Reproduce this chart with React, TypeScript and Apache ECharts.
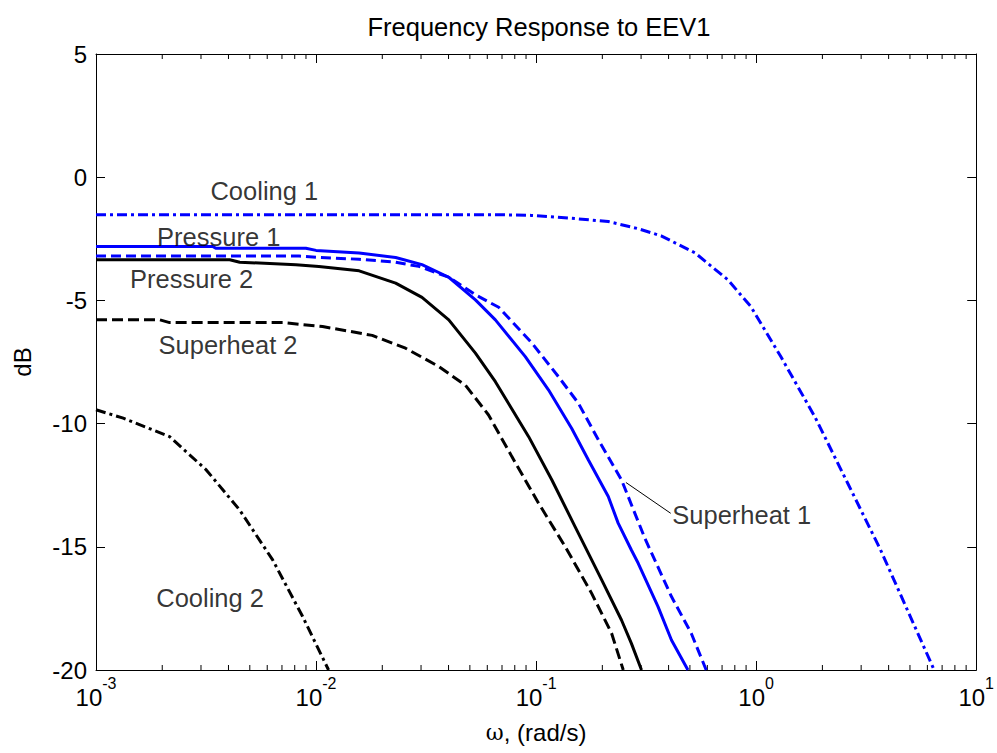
import React, { useEffect, useRef } from "react";
import * as echarts from "echarts";

// ---- Data (omega in rad/s, magnitude in dB) ----
const pressure1: [number, number][] = [
  [0.001, -2.81], [0.00339, -2.81], [0.0035, -2.88], [0.00899, -2.88], [0.01, -2.97],
  [0.0157, -3.08], [0.023, -3.26], [0.0303, -3.55], [0.0401, -4.06], [0.053, -4.98],
  [0.0653, -5.79], [0.0893, -7.28], [0.1138, -8.63], [0.1452, -10.2], [0.1726, -11.47],
  [0.2128, -12.96], [0.236, -14.04], [0.271, -15.13], [0.2911, -15.67], [0.3581, -17.43],
  [0.4121, -18.78], [0.4898, -20],
];
const superheat1: [number, number][] = [
  [0.001, -3.2], [0.00839, -3.2], [0.01, -3.25], [0.0157, -3.33], [0.023, -3.45],
  [0.0293, -3.62], [0.0401, -4.06], [0.053, -4.77], [0.0676, -5.28], [0.0957, -6.73],
  [0.1262, -8.09], [0.1556, -9.17], [0.1919, -10.66], [0.2443, -12.28], [0.3119, -14.65],
  [0.4121, -17.02], [0.507, -18.51], [0.5929, -20],
];
const pressure2: [number, number][] = [
  [0.001, -3.35], [0.00405, -3.35], [0.0045, -3.45], [0.0081, -3.55], [0.0103, -3.62],
  [0.0157, -3.8], [0.023, -4.3], [0.0303, -4.88], [0.0401, -5.79], [0.053, -7.14],
  [0.0653, -8.3], [0.0925, -10.53], [0.1178, -12.28], [0.1503, -14.18], [0.1986, -16.34],
  [0.2443, -17.97], [0.271, -18.92], [0.3013, -20],
];
const superheat2: [number, number][] = [
  [0.001, -5.79], [0.00195, -5.79], [0.00216, -5.9], [0.00705, -5.9], [0.0107, -6.06],
  [0.018, -6.42], [0.0255, -6.94], [0.0361, -7.68], [0.0478, -8.45], [0.0608, -9.65],
  [0.0776, -11.34], [0.1026, -13.23], [0.1355, -14.99], [0.1786, -16.88], [0.2203, -18.51],
  [0.2489, -20],
];
const cooling1: [number, number][] = [
  [0.001, -1.52], [0.0676, -1.52], [0.0953, -1.55], [0.1556, -1.69], [0.2128, -1.8],
  [0.2911, -2.09], [0.37, -2.38], [0.527, -3.07], [0.743, -4.16], [0.946, -5.25],
  [1.294, -7.28], [1.845, -9.71], [2.6, -12.4], [3.673, -15.12], [6.442, -20],
];
const cooling2: [number, number][] = [
  [0.001, -9.44], [0.00133, -9.78], [0.00216, -10.53], [0.00317, -11.88], [0.00449, -13.5],
  [0.00635, -15.53], [0.00869, -17.83], [0.0114, -20],
];

// annotation labels [omega, dB, text]
const annotations: [number, number, string][] = [
  [0.00582, -0.54, "Cooling 1"],
  [0.00361, -2.42, "Pressure 1"],
  [0.00272, -4.12, "Pressure 2"],
  [0.00398, -6.8, "Superheat 2"],
  [0.0033, -17.08, "Cooling 2"],
  [0.86, -13.71, "Superheat 1"],
];
const leader: [number, number][] = [[0.256, -12.39], [0.409, -13.64]];

const decades = [0.001, 0.01, 0.1, 1];
const minorMultipliers = [2, 3, 4, 5, 6, 7, 8, 9];

const xMin = 0.001;
const xMax = 10;
const yMin = -20;
const yMax = 5;
const yInterval = 5;

const FONT = "Liberation Sans, Arial, sans-serif";

export default function App() {
  const ref = useRef<HTMLDivElement>(null);
  useEffect(() => {
    document.body.style.margin = "0";
    if (!ref.current) return;
    const chart = echarts.init(ref.current, undefined, { renderer: "svg" });

    const minorTicks: number[][] = [];
    decades.forEach((d) => minorMultipliers.forEach((m) => minorTicks.push([d * m, yMin])));

    const lineSeries = (name: string, data: [number, number][], color: string, type: any) => ({
      name,
      type: "line",
      data,
      showSymbol: false,
      symbol: "none",
      smooth: false,
      lineStyle: { color, width: 3, type },
      z: 3,
    });

    const axisLine = { show: true, onZero: false, lineStyle: { color: "#000", width: 1 } };

    chart.setOption({
      animation: false,
      backgroundColor: "#fff",
      title: {
        text: "Frequency Response to EEV1",
        left: 534,
        top: 9,
        textAlign: "center",
        textStyle: { fontFamily: FONT, fontSize: 25.5, fontWeight: "normal", color: "#000" },
      },
      grid: { left: 96, right: 18, top: 54, bottom: 83, containLabel: false },
      xAxis: [
        {
          type: "log",
          logBase: 10,
          min: xMin,
          max: xMax,
          axisLine,
          splitLine: { show: false },
          axisTick: { show: true, inside: true, length: 9, lineStyle: { color: "#000" } },
          axisLabel: {
            margin: 5,
            formatter: (v: number) => `{b|10}{s|${Math.round(Math.log10(v))}}`,
            rich: {
              b: { fontFamily: FONT, fontSize: 24, color: "#000", lineHeight: 34, verticalAlign: "bottom" },
              s: { fontFamily: FONT, fontSize: 16, color: "#000", verticalAlign: "top", lineHeight: 18 },
            },
          },
          name: "{w|ω}, (rad/s)",
          nameLocation: "middle",
          nameGap: 50,
          nameTextStyle: {
            fontFamily: FONT,
            fontSize: 24,
            color: "#000",
            rich: { w: { fontFamily: "DejaVu Serif, serif", fontSize: 22, color: "#000" } },
          },
        },
        {
          type: "log",
          logBase: 10,
          min: xMin,
          max: xMax,
          position: "top",
          axisLine,
          splitLine: { show: false },
          axisTick: { show: true, inside: true, length: 9, lineStyle: { color: "#000" } },
          axisLabel: { show: false },
        },
      ],
      yAxis: [
        {
          type: "value",
          min: yMin,
          max: yMax,
          interval: yInterval,
          axisLine,
          splitLine: { show: false },
          axisTick: { show: true, inside: true, length: 9, lineStyle: { color: "#000" } },
          axisLabel: { margin: 9, fontFamily: FONT, fontSize: 24, color: "#000" },
          name: "dB",
          nameLocation: "middle",
          nameGap: 62,
          nameRotate: 90,
          nameTextStyle: { fontFamily: FONT, fontSize: 24, color: "#000" },
        },
        {
          type: "value",
          min: yMin,
          max: yMax,
          interval: yInterval,
          position: "right",
          axisLine,
          splitLine: { show: false },
          axisTick: { show: true, inside: true, length: 9, lineStyle: { color: "#000" } },
          axisLabel: { show: false },
        },
      ],
      series: [
        lineSeries("Cooling 1", cooling1, "#0000ff", [10, 4, 3, 4]),
        lineSeries("Pressure 1", pressure1, "#0000ff", "solid"),
        lineSeries("Superheat 1", superheat1, "#0000ff", [10, 5]),
        lineSeries("Pressure 2", pressure2, "#000000", "solid"),
        lineSeries("Superheat 2", superheat2, "#000000", [11, 5]),
        lineSeries("Cooling 2", cooling2, "#000000", [10, 4, 3, 4]),
        {
          name: "leader",
          type: "line",
          data: leader,
          showSymbol: false,
          symbol: "none",
          lineStyle: { color: "#000", width: 1 },
          z: 4,
        },
        {
          name: "labels",
          type: "scatter",
          data: annotations.map((a) => ({ value: [a[0], a[1]], name: a[2] })),
          symbolSize: 0,
          silent: true,
          label: {
            show: true,
            position: "inside",
            formatter: (p: any) => p.name,
            fontFamily: FONT,
            fontSize: 25.5,
            color: "#000",
            textBorderWidth: 0,
          },
          z: 5,
        },
        {
          name: "minorTicks",
          type: "custom",
          silent: true,
          clip: false,
          data: minorTicks,
          encode: { x: 0, y: 1 },
          renderItem: (params: any, api: any) => {
            const v = api.value(0);
            const b = api.coord([v, yMin]);
            const t = api.coord([v, yMax]);
            return {
              type: "group",
              children: [
                { type: "line", shape: { x1: b[0], y1: b[1], x2: b[0], y2: b[1] - 5 }, style: { stroke: "#000", lineWidth: 1 } },
                { type: "line", shape: { x1: t[0], y1: t[1], x2: t[0], y2: t[1] + 5 }, style: { stroke: "#000", lineWidth: 1 } },
              ],
            };
          },
        },
      ],
    });
    return () => chart.dispose();
  }, []);
  return <div ref={ref} style={{ width: 997, height: 753 }} />;
}
